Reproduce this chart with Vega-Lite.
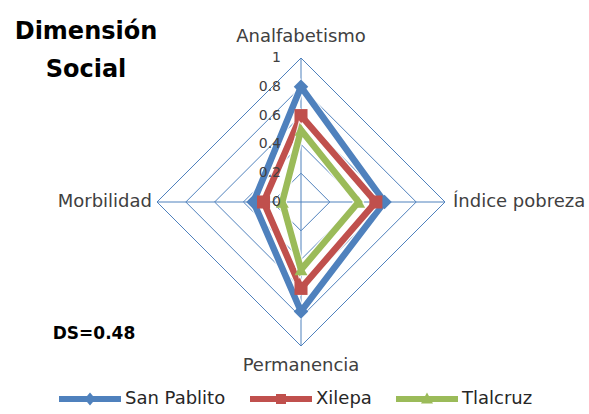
{
  "$schema": "https://vega.github.io/schema/vega-lite/v6.json",
  "width": 288,
  "height": 288,
  "autosize": {"type": "none"},
  "padding": {"left": 157, "top": 58, "right": 144, "bottom": 68},
  "background": "white",
  "config": {"view": {"stroke": null}, "font": "DejaVu Sans"},
  "datasets": {
    "valores": [
      {"localidad": "San Pablito", "indicador": "Analfabetismo", "valor": 0.8},
      {"localidad": "San Pablito", "indicador": "Índice pobreza", "valor": 0.58},
      {"localidad": "San Pablito", "indicador": "Permanencia", "valor": 0.76},
      {"localidad": "San Pablito", "indicador": "Morbilidad", "valor": 0.33},
      {"localidad": "Xilepa", "indicador": "Analfabetismo", "valor": 0.6},
      {"localidad": "Xilepa", "indicador": "Índice pobreza", "valor": 0.52},
      {"localidad": "Xilepa", "indicador": "Permanencia", "valor": 0.6},
      {"localidad": "Xilepa", "indicador": "Morbilidad", "valor": 0.26},
      {"localidad": "Tlalcruz", "indicador": "Analfabetismo", "valor": 0.5},
      {"localidad": "Tlalcruz", "indicador": "Índice pobreza", "valor": 0.4},
      {"localidad": "Tlalcruz", "indicador": "Permanencia", "valor": 0.47},
      {"localidad": "Tlalcruz", "indicador": "Morbilidad", "valor": 0.13}
    ],
    "niveles": [
      {"nivel": 0.2, "indicador": ["Analfabetismo", "Índice pobreza", "Permanencia", "Morbilidad"]},
      {"nivel": 0.4, "indicador": ["Analfabetismo", "Índice pobreza", "Permanencia", "Morbilidad"]},
      {"nivel": 0.6, "indicador": ["Analfabetismo", "Índice pobreza", "Permanencia", "Morbilidad"]},
      {"nivel": 0.8, "indicador": ["Analfabetismo", "Índice pobreza", "Permanencia", "Morbilidad"]},
      {"nivel": 1, "indicador": ["Analfabetismo", "Índice pobreza", "Permanencia", "Morbilidad"]}
    ],
    "marcas": [
      {"marca": 0}, {"marca": 0.2}, {"marca": 0.4}, {"marca": 0.6}, {"marca": 0.8}, {"marca": 1}
    ],
    "notas": [{"texto": "Dimensión"}, {"texto": "Social"}, {"texto": "DS=0.48"}]
  },
  "layer": [
    {
      "data": {"name": "niveles"},
      "transform": [
        {"flatten": ["indicador"]},
        {"calculate": "datum.indicador==='Índice pobreza' ? datum.nivel : datum.indicador==='Morbilidad' ? -datum.nivel : 0", "as": "px"},
        {"calculate": "datum.indicador==='Analfabetismo' ? datum.nivel : datum.indicador==='Permanencia' ? -datum.nivel : 0", "as": "py"},
        {"calculate": "indexof(['Analfabetismo','Índice pobreza','Permanencia','Morbilidad'], datum.indicador)", "as": "orden"}
      ],
      "mark": {"type": "line", "interpolate": "linear-closed", "stroke": "#4F81BD", "strokeWidth": 1},
      "encoding": {
        "x": {"field": "px", "type": "quantitative", "scale": {"domain": [-1, 1]}, "axis": null},
        "y": {"field": "py", "type": "quantitative", "scale": {"domain": [-1, 1]}, "axis": null},
        "detail": {"field": "nivel", "type": "nominal"},
        "order": {"field": "orden", "type": "quantitative"}
      }
    },
    {
      "data": {"name": "niveles"},
      "transform": [
        {"filter": "datum.nivel === 1"},
        {"flatten": ["indicador"]},
        {"calculate": "datum.indicador==='Índice pobreza' ? datum.nivel : datum.indicador==='Morbilidad' ? -datum.nivel : 0", "as": "px"},
        {"calculate": "datum.indicador==='Analfabetismo' ? datum.nivel : datum.indicador==='Permanencia' ? -datum.nivel : 0", "as": "py"},
        {"calculate": "0", "as": "centro"}
      ],
      "mark": {"type": "rule", "stroke": "#4F81BD", "strokeWidth": 1},
      "encoding": {
        "x": {"field": "px", "type": "quantitative", "scale": {"domain": [-1, 1]}, "axis": null},
        "y": {"field": "py", "type": "quantitative", "scale": {"domain": [-1, 1]}, "axis": null},
        "x2": {"field": "centro"},
        "y2": {"field": "centro"}
      }
    },
    {
      "data": {"name": "valores"},
      "transform": [
        {"calculate": "datum.indicador==='Índice pobreza' ? datum.valor : datum.indicador==='Morbilidad' ? -datum.valor : 0", "as": "px"},
        {"calculate": "datum.indicador==='Analfabetismo' ? datum.valor : datum.indicador==='Permanencia' ? -datum.valor : 0", "as": "py"},
        {"calculate": "indexof(['Analfabetismo','Índice pobreza','Permanencia','Morbilidad'], datum.indicador)", "as": "orden"}
      ],
      "layer": [
        {
          "transform": [{"filter": "datum.localidad === 'San Pablito'"}],
          "mark": {"type": "line", "interpolate": "linear-closed", "strokeWidth": 9, "stroke": "#FFFFFF", "strokeJoin": "miter", "opacity": 0.85},
          "encoding": {
            "x": {"field": "px", "type": "quantitative", "scale": {"domain": [-1, 1]}, "axis": null},
            "y": {"field": "py", "type": "quantitative", "scale": {"domain": [-1, 1]}, "axis": null},
            "order": {"field": "orden", "type": "quantitative"}
          }
        },
        {
          "transform": [{"filter": "datum.localidad === 'San Pablito'"}],
          "mark": {"type": "line", "interpolate": "linear-closed", "strokeWidth": 6.5, "strokeJoin": "miter"},
          "encoding": {
            "x": {"field": "px", "type": "quantitative", "scale": {"domain": [-1, 1]}, "axis": null},
            "y": {"field": "py", "type": "quantitative", "scale": {"domain": [-1, 1]}, "axis": null},
            "color": {"field": "localidad", "type": "nominal", "scale": {"domain": ["San Pablito", "Xilepa", "Tlalcruz"], "range": ["#4F81BD", "#C0504D", "#9BBB59"]}},
            "order": {"field": "orden", "type": "quantitative"}
          }
        },
        {
          "transform": [{"filter": "datum.localidad === 'San Pablito'"}],
          "mark": {"type": "point", "shape": "diamond", "filled": true, "opacity": 1, "size": 210},
          "encoding": {
            "x": {"field": "px", "type": "quantitative", "scale": {"domain": [-1, 1]}, "axis": null},
            "y": {"field": "py", "type": "quantitative", "scale": {"domain": [-1, 1]}, "axis": null},
            "color": {
              "field": "localidad", "type": "nominal",
              "scale": {"domain": ["San Pablito", "Xilepa", "Tlalcruz"], "range": ["#4F81BD", "#C0504D", "#9BBB59"]},
              "legend": {
                "orient": "none",
                "legendX": -102,
                "legendY": 332,
                "direction": "horizontal",
                "title": null,
                "labelFont": "DejaVu Sans",
                "labelFontSize": 18,
                "labelColor": "#262626",
                "symbolSize": 100,
                "labelOffset": 52,
                "columnPadding": 20,
                "symbolOpacity": 1,
                "encode": {
                  "symbols": {
                    "update": {
                      "shape": {"signal": "datum.value === 'San Pablito' ? 'M-1,-0.6L11.4,-0.6L11.4,0.6L-1,0.6Z M5.2,-1.3L6.3,0L5.2,1.3L4.1,0Z' : datum.value === 'Xilepa' ? 'M-1,-0.6L11.4,-0.6L11.4,0.6L-1,0.6Z M4.2,-1L6.2,-1L6.2,1L4.2,1Z' : 'M-1,-0.6L11.4,-0.6L11.4,0.6L-1,0.6Z M5.2,-1.3L6.4,0.9L4,0.9Z'"},
                      "fill": {"signal": "datum.value === 'San Pablito' ? '#4F81BD' : datum.value === 'Xilepa' ? '#C0504D' : '#9BBB59'"},
                      "strokeWidth": {"value": 0},
                      "opacity": {"value": 1}
                    }
                  }
                }
              }
            }
          }
        },
        {
          "transform": [{"filter": "datum.localidad === 'Xilepa'"}],
          "mark": {"type": "line", "interpolate": "linear-closed", "strokeWidth": 9, "stroke": "#FFFFFF", "strokeJoin": "miter", "opacity": 0.85},
          "encoding": {
            "x": {"field": "px", "type": "quantitative", "scale": {"domain": [-1, 1]}, "axis": null},
            "y": {"field": "py", "type": "quantitative", "scale": {"domain": [-1, 1]}, "axis": null},
            "order": {"field": "orden", "type": "quantitative"}
          }
        },
        {
          "transform": [{"filter": "datum.localidad === 'Xilepa'"}],
          "mark": {"type": "line", "interpolate": "linear-closed", "strokeWidth": 6.5, "strokeJoin": "miter"},
          "encoding": {
            "x": {"field": "px", "type": "quantitative", "scale": {"domain": [-1, 1]}, "axis": null},
            "y": {"field": "py", "type": "quantitative", "scale": {"domain": [-1, 1]}, "axis": null},
            "color": {"field": "localidad", "type": "nominal", "scale": {"domain": ["San Pablito", "Xilepa", "Tlalcruz"], "range": ["#4F81BD", "#C0504D", "#9BBB59"]}},
            "order": {"field": "orden", "type": "quantitative"}
          }
        },
        {
          "transform": [{"filter": "datum.localidad === 'Xilepa'"}],
          "mark": {"type": "point", "shape": "square", "filled": true, "opacity": 1, "size": 170},
          "encoding": {
            "x": {"field": "px", "type": "quantitative", "scale": {"domain": [-1, 1]}, "axis": null},
            "y": {"field": "py", "type": "quantitative", "scale": {"domain": [-1, 1]}, "axis": null},
            "color": {"field": "localidad", "type": "nominal", "scale": {"domain": ["San Pablito", "Xilepa", "Tlalcruz"], "range": ["#4F81BD", "#C0504D", "#9BBB59"]}}
          }
        },
        {
          "transform": [{"filter": "datum.localidad === 'Tlalcruz'"}],
          "mark": {"type": "line", "interpolate": "linear-closed", "strokeWidth": 9, "stroke": "#FFFFFF", "strokeJoin": "miter", "opacity": 0.85},
          "encoding": {
            "x": {"field": "px", "type": "quantitative", "scale": {"domain": [-1, 1]}, "axis": null},
            "y": {"field": "py", "type": "quantitative", "scale": {"domain": [-1, 1]}, "axis": null},
            "order": {"field": "orden", "type": "quantitative"}
          }
        },
        {
          "transform": [{"filter": "datum.localidad === 'Tlalcruz'"}],
          "mark": {"type": "line", "interpolate": "linear-closed", "strokeWidth": 6.5, "strokeJoin": "miter"},
          "encoding": {
            "x": {"field": "px", "type": "quantitative", "scale": {"domain": [-1, 1]}, "axis": null},
            "y": {"field": "py", "type": "quantitative", "scale": {"domain": [-1, 1]}, "axis": null},
            "color": {"field": "localidad", "type": "nominal", "scale": {"domain": ["San Pablito", "Xilepa", "Tlalcruz"], "range": ["#4F81BD", "#C0504D", "#9BBB59"]}},
            "order": {"field": "orden", "type": "quantitative"}
          }
        },
        {
          "transform": [{"filter": "datum.localidad === 'Tlalcruz'"}],
          "mark": {"type": "point", "shape": "triangle-up", "filled": true, "opacity": 1, "size": 170},
          "encoding": {
            "x": {"field": "px", "type": "quantitative", "scale": {"domain": [-1, 1]}, "axis": null},
            "y": {"field": "py", "type": "quantitative", "scale": {"domain": [-1, 1]}, "axis": null},
            "color": {"field": "localidad", "type": "nominal", "scale": {"domain": ["San Pablito", "Xilepa", "Tlalcruz"], "range": ["#4F81BD", "#C0504D", "#9BBB59"]}}
          }
        }
      ]
    },
    {
      "data": {"name": "marcas"},
      "mark": {"type": "text", "align": "right", "baseline": "middle", "dx": -20, "fontSize": 14, "color": "#404040", "font": "DejaVu Sans"},
      "encoding": {
        "x": {"datum": 0, "type": "quantitative", "scale": {"domain": [-1, 1]}, "axis": null},
        "y": {"field": "marca", "type": "quantitative", "scale": {"domain": [-1, 1]}, "axis": null},
        "text": {"field": "marca", "type": "quantitative", "format": "~g"}
      }
    },
    {
      "data": {"name": "niveles"},
      "transform": [
        {"filter": "datum.nivel === 1"},
        {"flatten": ["indicador"]},
        {"filter": "datum.indicador === 'Analfabetismo'"}
      ],
      "mark": {"type": "text", "align": "center", "baseline": "middle", "dy": -21, "fontSize": 18, "color": "#404040", "font": "DejaVu Sans"},
      "encoding": {
        "x": {"datum": 0, "type": "quantitative", "scale": {"domain": [-1, 1]}, "axis": null},
        "y": {"field": "nivel", "type": "quantitative", "scale": {"domain": [-1, 1]}, "axis": null},
        "text": {"field": "indicador", "type": "nominal"}
      }
    },
    {
      "data": {"name": "niveles"},
      "transform": [
        {"filter": "datum.nivel === 1"},
        {"flatten": ["indicador"]},
        {"filter": "datum.indicador === 'Permanencia'"},
        {"calculate": "-datum.nivel", "as": "py"}
      ],
      "mark": {"type": "text", "align": "center", "baseline": "middle", "dy": 20, "fontSize": 18, "color": "#404040", "font": "DejaVu Sans"},
      "encoding": {
        "x": {"datum": 0, "type": "quantitative", "scale": {"domain": [-1, 1]}, "axis": null},
        "y": {"field": "py", "type": "quantitative", "scale": {"domain": [-1, 1]}, "axis": null},
        "text": {"field": "indicador", "type": "nominal"}
      }
    },
    {
      "data": {"name": "niveles"},
      "transform": [
        {"filter": "datum.nivel === 1"},
        {"flatten": ["indicador"]},
        {"filter": "datum.indicador === 'Índice pobreza'"}
      ],
      "mark": {"type": "text", "align": "left", "baseline": "middle", "dx": 8, "fontSize": 18, "color": "#404040", "font": "DejaVu Sans"},
      "encoding": {
        "x": {"field": "nivel", "type": "quantitative", "scale": {"domain": [-1, 1]}, "axis": null},
        "y": {"datum": 0, "type": "quantitative", "scale": {"domain": [-1, 1]}, "axis": null},
        "text": {"field": "indicador", "type": "nominal"}
      }
    },
    {
      "data": {"name": "niveles"},
      "transform": [
        {"filter": "datum.nivel === 1"},
        {"flatten": ["indicador"]},
        {"filter": "datum.indicador === 'Morbilidad'"},
        {"calculate": "-datum.nivel", "as": "px"}
      ],
      "mark": {"type": "text", "align": "right", "baseline": "middle", "dx": -5, "fontSize": 18, "color": "#404040", "font": "DejaVu Sans"},
      "encoding": {
        "x": {"field": "px", "type": "quantitative", "scale": {"domain": [-1, 1]}, "axis": null},
        "y": {"datum": 0, "type": "quantitative", "scale": {"domain": [-1, 1]}, "axis": null},
        "text": {"field": "indicador", "type": "nominal"}
      }
    },
    {
      "data": {"name": "notas"},
      "transform": [{"filter": "datum.texto === 'Dimensión'"}],
      "mark": {"type": "text", "align": "center", "baseline": "middle", "fontSize": 24, "fontWeight": "bold", "color": "#000000", "font": "DejaVu Sans", "clip": false},
      "encoding": {
        "x": {"datum": -1.493, "type": "quantitative", "scale": {"domain": [-1, 1]}, "axis": null},
        "y": {"datum": 1.18, "type": "quantitative", "scale": {"domain": [-1, 1]}, "axis": null},
        "text": {"field": "texto", "type": "nominal"}
      }
    },
    {
      "data": {"name": "notas"},
      "transform": [{"filter": "datum.texto === 'Social'"}],
      "mark": {"type": "text", "align": "center", "baseline": "middle", "fontSize": 24, "fontWeight": "bold", "color": "#000000", "font": "DejaVu Sans", "clip": false},
      "encoding": {
        "x": {"datum": -1.493, "type": "quantitative", "scale": {"domain": [-1, 1]}, "axis": null},
        "y": {"datum": 0.917, "type": "quantitative", "scale": {"domain": [-1, 1]}, "axis": null},
        "text": {"field": "texto", "type": "nominal"}
      }
    },
    {
      "data": {"name": "notas"},
      "transform": [{"filter": "datum.texto === 'DS=0.48'"}],
      "mark": {"type": "text", "align": "center", "baseline": "middle", "fontSize": 17, "fontWeight": "bold", "color": "#000000", "font": "DejaVu Sans", "clip": false},
      "encoding": {
        "x": {"datum": -1.4375, "type": "quantitative", "scale": {"domain": [-1, 1]}, "axis": null},
        "y": {"datum": -0.92, "type": "quantitative", "scale": {"domain": [-1, 1]}, "axis": null},
        "text": {"field": "texto", "type": "nominal"}
      }
    }
  ]
}
